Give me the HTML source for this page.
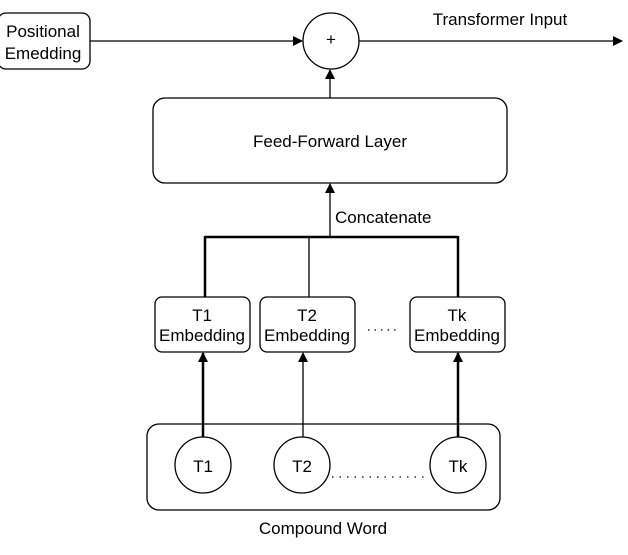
<!DOCTYPE html>
<html><head><style>body{margin:0;background:#fff}svg text{font-family:"Liberation Sans",sans-serif;font-size:17px;fill:#000}</style></head>
<body>
<svg width="628" height="550" viewBox="0 0 628 550">
<defs><marker id="a" markerWidth="10" markerHeight="10" refX="9" refY="5" orient="auto" markerUnits="userSpaceOnUse"><path d="M0,0 L10,5 L0,10 Z" fill="#000"/></marker></defs>
<g fill="none" stroke="#000" stroke-width="1.3">
<rect x="-2" y="13" width="92" height="56" rx="8"/>
<ellipse cx="331" cy="41" rx="28" ry="28"/>
<line x1="90" y1="41" x2="302" y2="41" marker-end="url(#a)"/>
<line x1="359" y1="41" x2="622" y2="41" marker-end="url(#a)"/>
<rect x="153" y="98" width="354" height="85" rx="12"/>
<line x1="330" y1="98" x2="330" y2="70" marker-end="url(#a)"/>
<line x1="330" y1="237" x2="330" y2="184" marker-end="url(#a)"/>
<line x1="205" y1="237" x2="458" y2="237" stroke-width="2.5"/>
<line x1="205" y1="236" x2="205" y2="297" stroke-width="2.5"/>
<line x1="309" y1="237" x2="309" y2="297"/>
<line x1="458" y1="236" x2="458" y2="297" stroke-width="2.5"/>
<rect x="155" y="297" width="95" height="55" rx="7"/>
<rect x="260" y="297" width="95" height="55" rx="7"/>
<rect x="410" y="297" width="95" height="55" rx="7"/>
<line x1="368" y1="330" x2="396" y2="330" stroke-dasharray="1.5,5"/>
<rect x="147" y="424" width="353" height="86" rx="12"/>
<line x1="203" y1="437" x2="203" y2="353" stroke-width="2.5" marker-end="url(#a)"/>
<line x1="303" y1="437" x2="303" y2="353" marker-end="url(#a)"/>
<line x1="458" y1="437" x2="458" y2="353" stroke-width="2.5" marker-end="url(#a)"/>
<circle cx="203" cy="465" r="28"/>
<circle cx="302" cy="465" r="28"/>
<circle cx="458" cy="465" r="28"/>
<line x1="332" y1="477" x2="428" y2="477" stroke-dasharray="1.5,6"/>
</g>
<text x="43" y="37" text-anchor="middle">Positional</text>
<text x="43" y="59" text-anchor="middle">Emedding</text>
<text x="331" y="45" text-anchor="middle" font-size="11">+</text>
<text x="500" y="25" text-anchor="middle">Transformer Input</text>
<text x="330" y="147" text-anchor="middle">Feed-Forward Layer</text>
<text x="335" y="223">Concatenate</text>
<text x="202" y="321" text-anchor="middle">T1</text><text x="202" y="341" text-anchor="middle">Embedding</text>
<text x="307" y="321" text-anchor="middle">T2</text><text x="307" y="341" text-anchor="middle">Embedding</text>
<text x="457" y="321" text-anchor="middle">Tk</text><text x="457" y="341" text-anchor="middle">Embedding</text>
<text x="203" y="472" text-anchor="middle">T1</text>
<text x="302" y="472" text-anchor="middle">T2</text>
<text x="458" y="472" text-anchor="middle">Tk</text>
<text x="323" y="534" text-anchor="middle">Compound Word</text>
</svg>
</body></html>
